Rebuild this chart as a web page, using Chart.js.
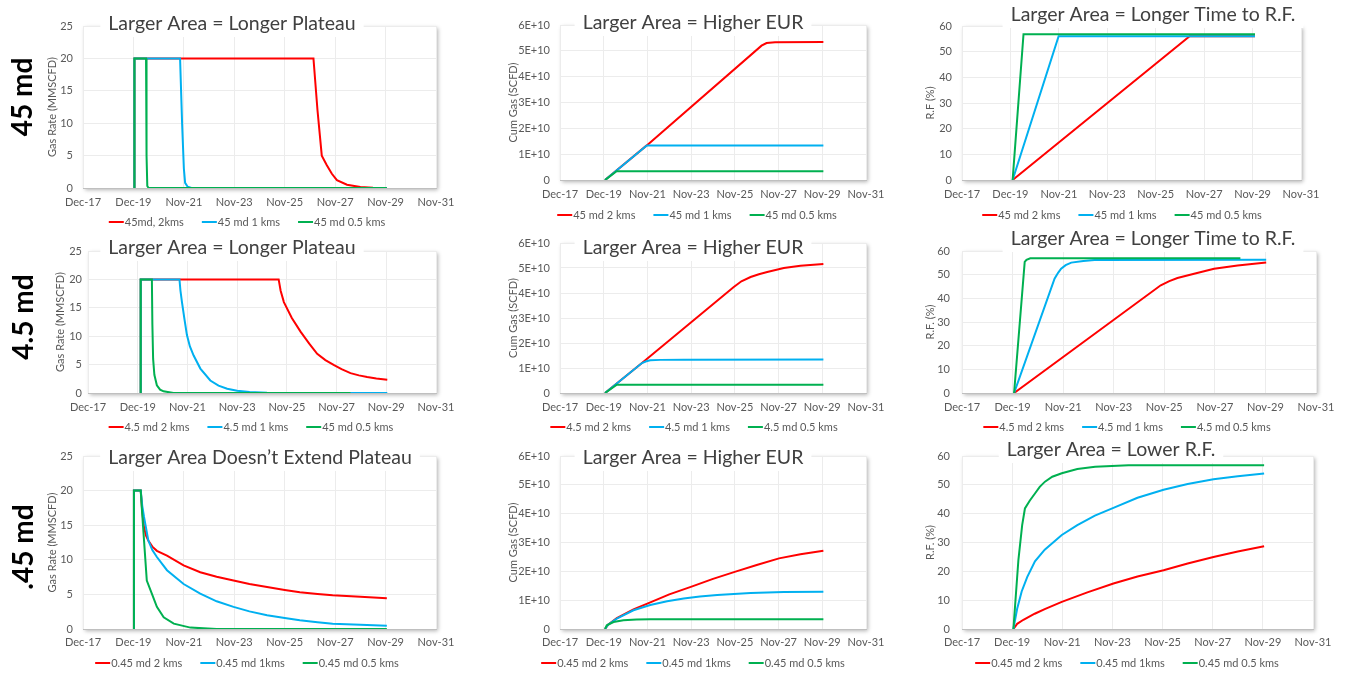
<!DOCTYPE html>
<html>
<head>
<meta charset="utf-8">
<script src="https://cdn.jsdelivr.net/npm/chart.js@4.4.1/dist/chart.umd.min.js"></script>
<style>
  body { margin: 0; background: #fff; width: 1345px; height: 674px; position: relative; overflow: hidden; }
  canvas { position: absolute; }
  .row-label {
    position: absolute;
    font: 700 28px Lato, sans-serif;
    color: #000;
    white-space: nowrap;
    transform: translate(-50%, -50%) rotate(-90deg);
    z-index: 5;
  }
</style>
</head>
<body>
<div class="row-label" style="left:21px;top:97px">45 md</div>
<div class="row-label" style="left:22px;top:317px">4.5 md</div>
<div class="row-label" style="left:22px;top:547px">.45 md</div>

<script>
// time axis in years after Dec-17, one tick every two years
const xTickLabels = ['Dec-17', 'Dec-19', 'Nov-21', 'Nov-23', 'Nov-25', 'Nov-27', 'Nov-29', 'Nov-31'];
const seriesColors = ['#ff0000', '#00b0f0', '#00b050'];

// ---- 45 md ----
const rate45md2km = [[2.04,0],[2.04,20],[9.14,20],[9.3,12],[9.47,5],[9.67,3.5],[9.87,2.2],[10.07,1.2],[10.47,0.5],[11.0,0.15],[11.5,0.05],[12.05,0]];
const rate45md1km = [[2.04,0],[2.04,20],[3.85,20],[3.93,10],[4.0,3],[4.05,0.8],[4.15,0.2],[4.3,0],[12.05,0]];
const rate45md05km = [[2.04,0],[2.04,20],[2.5,20],[2.52,5],[2.55,0.3],[2.6,0],[12.05,0]];

const cum45md2km = [[2.06,0],[3.97,1.34e10],[9.22,5.2e10],[9.45,5.3e10],[9.84,5.33e10],[12.05,5.34e10]];
const cum45md1km = [[2.06,0],[3.97,1.34e10],[12.05,1.34e10]];
const cum45md05km = [[2.06,0],[2.59,0.34e10],[12.05,0.34e10]];

const rf45md2km = [[2.09,0],[9.4,56],[12.1,56]];
const rf45md1km = [[2.09,0],[3.99,56],[12.1,56]];
const rf45md05km = [[2.09,0],[2.54,56.8],[12.1,56.8]];

// ---- 4.5 md ----
const rate4p5md2km = [[2.12,0],[2.12,20],[7.67,20],[7.75,18],[7.88,16],[8.2,13.2],[8.55,10.8],[8.9,8.7],[9.22,6.9],[9.55,5.8],[9.9,4.9],[10.2,4.2],[10.56,3.5],[10.9,3.1],[11.23,2.8],[11.6,2.55],[12.04,2.35]];
const rate4p5md1km = [[2.12,0],[2.12,20],[3.68,20],[3.72,18],[3.78,16],[3.88,13],[3.98,10.2],[4.1,8.2],[4.25,6.6],[4.52,4.3],[4.92,2.2],[5.25,1.3],[5.6,0.76],[6.0,0.4],[6.5,0.18],[7.2,0.05],[7.9,0],[12.04,0]];
const rate4p5md05km = [[2.12,0],[2.12,20],[2.57,20],[2.59,12],[2.62,6],[2.67,3.2],[2.77,1.35],[2.9,0.6],[3.04,0.3],[3.44,0],[10.56,0]];

const cum4p5md2km = [[2.06,0],[3.75,1.2e10],[7.95,4.24e10],[8.3,4.47e10],[8.72,4.64e10],[9.1,4.75e10],[9.48,4.84e10],[10.24,5.0e10],[11.0,5.09e10],[12.05,5.16e10]];
const cum4p5md1km = [[2.06,0],[3.75,1.2e10],[3.95,1.27e10],[4.13,1.31e10],[4.6,1.325e10],[5.66,1.33e10],[12.05,1.34e10]];
const cum4p5md05km = [[2.06,0],[2.6,0.33e10],[12.05,0.33e10]];

const rf4p5md2km = [[2.06,0],[7.86,45.5],[8.2,47.3],[8.52,48.6],[9.18,50.4],[9.97,52.5],[10.9,53.9],[12.03,55.1]];
const rf4p5md1km = [[2.06,0],[3.66,48.3],[3.8,50.8],[3.92,52.5],[4.1,54],[4.32,55.1],[4.8,55.8],[5.24,56.2],[12.03,56.3]];
const rf4p5md05km = [[2.06,0],[2.48,55.4],[2.55,56.3],[2.7,56.9],[11.01,56.9]];

// ---- 0.45 md ----
const rate0p45md2km = [[2.02,0],[2.02,20],[2.29,20],[2.35,17],[2.42,14.7],[2.5,13.5],[2.59,12.8],[2.75,11.9],[2.93,11.3],[3.33,10.6],[3.99,9.2],[4.65,8.2],[5.3,7.55],[5.97,7.0],[6.6,6.5],[7.3,6.06],[8.0,5.65],[8.6,5.3],[9.3,5.05],[9.9,4.86],[11.0,4.65],[12.05,4.45]];
const rate0p45md1km = [[2.02,0],[2.02,20],[2.29,20],[2.35,17.8],[2.42,16.2],[2.59,12.8],[2.75,11.4],[2.93,10.4],[3.33,8.5],[3.99,6.5],[4.65,5.1],[5.3,4.0],[5.97,3.2],[6.6,2.55],[7.3,2.0],[8.0,1.6],[8.6,1.25],[9.3,0.98],[9.9,0.77],[11.0,0.6],[12.05,0.48]];
const rate0p45md05km = [[2.02,0],[2.02,20],[2.29,20],[2.33,17.6],[2.42,12.8],[2.53,7.0],[2.73,5.1],[2.93,3.2],[3.2,1.7],[3.6,0.77],[4.26,0.2],[5.3,0],[12.05,0]];

const cum0p45md2km = [[2.06,0],[2.2,0.15e10],[2.6,0.38e10],[3.36,0.68e10],[4.05,0.9e10],[5.0,1.2e10],[6.05,1.48e10],[7.0,1.74e10],[8.03,1.99e10],[9.0,2.22e10],[10.02,2.45e10],[11.0,2.59e10],[12.05,2.71e10]];
const cum0p45md1km = [[2.06,0],[2.2,0.15e10],[2.6,0.36e10],[3.36,0.65e10],[4.13,0.83e10],[4.9,0.96e10],[5.66,1.06e10],[6.4,1.13e10],[7.19,1.18e10],[8.72,1.25e10],[10.24,1.28e10],[12.05,1.29e10]];
const cum0p45md05km = [[2.06,0],[2.14,0.13e10],[2.45,0.24e10],[2.9,0.3e10],[3.5,0.33e10],[4.13,0.34e10],[12.05,0.34e10]];

const rf0p45md2km = [[2.05,0],[2.2,1.8],[2.45,3.2],[2.9,5.3],[3.3,6.9],[3.98,9.4],[5.0,12.7],[6.04,15.8],[7.0,18.2],[8.04,20.4],[9.0,22.7],[10.03,25],[11.0,26.9],[12.05,28.7]];
const rf0p45md1km = [[2.05,0],[2.2,7],[2.38,13],[2.6,18],[2.91,23.5],[3.3,27.5],[3.98,32.6],[4.6,36],[5.3,39.3],[6.04,42],[7.0,45.5],[8.04,48.3],[9.0,50.3],[10.03,51.9],[11.0,53],[12.05,53.9]];
const rf0p45md05km = [[2.05,0],[2.25,24],[2.4,36],[2.51,41.8],[2.7,44.5],[2.91,47],[3.1,49.3],[3.31,51.1],[3.6,52.8],[3.98,54],[4.6,55.5],[5.31,56.3],[6.64,56.8],[12.05,56.8]];

const legend45Rate = ['45md, 2kms', '45 md 1 kms', '45 md 0.5 kms'];
const legend45 = ['45 md 2 kms', '45 md 1 kms', '45 md 0.5 kms'];
const legend4p5Rate = ['4.5 md 2 kms', '4.5 md 1 kms', '45 md 0.5 kms'];
const legend4p5 = ['4.5 md 2 kms', '4.5 md 1 kms', '4.5 md 0.5 kms'];
const legend0p45 = ['0.45 md 2 kms', '0.45 md 1kms', '0.45 md 0.5 kms'];

const fontFamily = 'Lato, "Open Sans", sans-serif';
const textGrey = '#595959';
const yTitleSize = 11;

// plot box with a soft drop shadow
const framePlugin = {
  id: 'plotFrame',
  beforeDraw(chart) {
    const { ctx, chartArea: a } = chart;
    ctx.save();
    ctx.shadowColor = 'rgba(0,0,0,0.30)';
    ctx.shadowBlur = 4;
    ctx.shadowOffsetX = 2;
    ctx.shadowOffsetY = 2;
    ctx.fillStyle = '#fff';
    ctx.fillRect(a.left, a.top, a.right - a.left, a.bottom - a.top);
    ctx.restore();
    ctx.save();
    ctx.strokeStyle = '#e2e2e2';
    ctx.lineWidth = 1;
    ctx.strokeRect(Math.round(a.left) + 0.5, Math.round(a.top) + 0.5, a.right - a.left, a.bottom - a.top);
    ctx.restore();
  }
};

// heading sitting on the top edge of the plot box
const headingPlugin = {
  id: 'boxHeading',
  afterDraw(chart, args, opts) {
    const ctx = chart.ctx;
    ctx.save();
    ctx.font = '19.5px ' + fontFamily;
    const w = ctx.measureText(opts.text).width;
    ctx.fillStyle = '#fff';
    ctx.fillRect(opts.x - w / 2 - 8, opts.y - 13, w + 16, 26);
    ctx.fillStyle = '#404040';
    ctx.textAlign = 'center';
    ctx.textBaseline = 'middle';
    ctx.fillText(opts.text, opts.x, opts.y);
    ctx.restore();
  }
};

// one-row legend with short line markers
const lineLegendPlugin = {
  id: 'lineLegend',
  afterDraw(chart, args, opts) {
    const ctx = chart.ctx;
    const labels = chart.data.datasets.map(d => d.label);
    ctx.save();
    ctx.font = '11px ' + fontFamily;
    const lineW = 15, gap = 1, space = 18;
    const widths = labels.map(t => lineW + gap + ctx.measureText(t).width);
    const total = widths.reduce((s, w) => s + w, 0) + space * (widths.length - 1);
    let x = opts.x - total / 2;
    labels.forEach((t, i) => {
      ctx.strokeStyle = chart.data.datasets[i].borderColor;
      ctx.lineWidth = 2;
      ctx.beginPath();
      ctx.moveTo(x, opts.y);
      ctx.lineTo(x + lineW, opts.y);
      ctx.stroke();
      ctx.fillStyle = textGrey;
      ctx.textAlign = 'left';
      ctx.textBaseline = 'middle';
      ctx.fillText(t, x + lineW + gap, opts.y);
      x += widths[i] + space;
    });
    ctx.restore();
  }
};

// canvas cells overlap a little so edge labels are never cut
const cols = [{ x: 0, w: 458 }, { x: 450, w: 445 }, { x: 895, w: 450 }];
const rows = [{ y: 0, h: 232 }, { y: 225, h: 215 }, { y: 432, h: 242 }];

const rateAxis = { max: 25, step: 5, title: 'Gas Rate (MMSCFD)', fmt: v => v };
const cumAxis = { max: 6e10, step: 1e10, title: 'Cum Gas (SCFD)', fmt: v => (v === 0 ? '0' : (v / 1e10) + 'E+10') };
const rfAxis = { max: 60, step: 10, title: 'R.F. (%)', fmt: v => v };

const panels = [
  { col: 0, row: 0, axis: rateAxis, heading: 'Larger Area = Longer Plateau', series: [rate45md2km, rate45md1km, rate45md05km], legend: legend45Rate,
    area: { l: 83, t: 26, r: 436, b: 188 }, yTitleX: 52, yTickRight: 73, xTickY: 203, head: [232, 24], leg: [247, 222] },
  { col: 1, row: 0, axis: cumAxis, heading: 'Larger Area = Higher EUR', series: [cum45md2km, cum45md1km, cum45md05km], legend: legend45,
    area: { l: 560, t: 25, r: 866, b: 180 }, yTitleX: 513, yTickRight: 550, xTickY: 195, head: [693, 23], leg: [697, 215] },
  { col: 2, row: 0, axis: Object.assign({}, rfAxis, { title: 'R.F (%)' }), heading: 'Larger Area = Longer Time to R.F.', series: [rf45md2km, rf45md1km, rf45md05km], legend: legend45,
    area: { l: 962, t: 26, r: 1301, b: 180 }, yTitleX: 930, yTickRight: 952, xTickY: 195, head: [1153, 15], leg: [1122, 215] },

  { col: 0, row: 1, axis: rateAxis, heading: 'Larger Area = Longer Plateau', series: [rate4p5md2km, rate4p5md1km, rate4p5md05km], legend: legend4p5Rate,
    area: { l: 88, t: 251, r: 436, b: 393 }, yTitleX: 60, yTickRight: 82, xTickY: 408, head: [232, 248], leg: [251, 427] },
  { col: 1, row: 1, axis: cumAxis, heading: 'Larger Area = Higher EUR', series: [cum4p5md2km, cum4p5md1km, cum4p5md05km], legend: legend4p5,
    area: { l: 560, t: 243, r: 866, b: 393 }, yTitleX: 513, yTickRight: 550, xTickY: 408, head: [693, 248], leg: [694, 427] },
  { col: 2, row: 1, axis: rfAxis, heading: 'Larger Area = Longer Time to R.F.', series: [rf4p5md2km, rf4p5md1km, rf4p5md05km], legend: legend4p5,
    area: { l: 962, t: 251, r: 1316, b: 393 }, yTitleX: 930, yTickRight: 950, xTickY: 408, head: [1153, 239], leg: [1127, 427] },

  { col: 0, row: 2, axis: rateAxis, heading: 'Larger Area Doesn\u2019t Extend Plateau', series: [rate0p45md2km, rate0p45md1km, rate0p45md05km], legend: legend0p45,
    area: { l: 83, t: 456, r: 436, b: 629 }, yTitleX: 52, yTickRight: 73, xTickY: 643, head: [260, 458], leg: [247, 663] },
  { col: 1, row: 2, axis: cumAxis, heading: 'Larger Area = Higher EUR', series: [cum0p45md2km, cum0p45md1km, cum0p45md05km], legend: legend0p45,
    area: { l: 560, t: 456, r: 866, b: 629 }, yTitleX: 513, yTickRight: 550, xTickY: 643, head: [693, 458], leg: [693, 663] },
  { col: 2, row: 2, axis: rfAxis, heading: 'Larger Area = Lower R.F.', series: [rf0p45md2km, rf0p45md1km, rf0p45md05km], legend: legend0p45,
    area: { l: 962, t: 456, r: 1313, b: 629 }, yTitleX: 930, yTickRight: 950, xTickY: 643, head: [1111, 450], leg: [1127, 663] },
];

function buildPanel(p) {
  const cell = { x: cols[p.col].x, y: rows[p.row].y, w: cols[p.col].w, h: rows[p.row].h };
  const canvas = document.createElement('canvas');
  canvas.width = cell.w;
  canvas.height = cell.h;
  canvas.style.left = cell.x + 'px';
  canvas.style.top = cell.y + 'px';
  document.body.appendChild(canvas);

  const a = p.area;
  const yWidth = a.l - (p.yTitleX - yTitleSize * 0.6);
  const xHeight = 30;

  new Chart(canvas.getContext('2d'), {
    type: 'line',
    data: {
      datasets: p.series.map((s, i) => ({
        label: p.legend[i],
        data: s.map(([x, y]) => ({ x, y })),
        borderColor: seriesColors[i],
        borderWidth: 2,
        pointRadius: 0,
        tension: 0,
        fill: false,
        order: 3 - i,
      })),
    },
    options: {
      responsive: false,
      animation: false,
      devicePixelRatio: 1,
      events: [],
      layout: {
        padding: {
          left: a.l - cell.x - yWidth,
          top: a.t - cell.y,
          right: cell.x + cell.w - a.r,
          bottom: cell.y + cell.h - a.b - xHeight,
        },
      },
      scales: {
        x: {
          type: 'linear',
          min: 0,
          max: 14,
          ticks: {
            stepSize: 2,
            autoSkip: false,
            maxRotation: 0,
            padding: p.xTickY - a.b - 7,
            color: textGrey,
            font: { family: fontFamily, size: 11 },
            callback: v => xTickLabels[Math.round(v / 2)],
          },
          grid: { color: '#ececec', drawTicks: false },
          border: { color: '#bfbfbf' },
          afterFit: sc => { sc.height = xHeight; sc.paddingLeft = 0; sc.paddingRight = 0; },
        },
        y: {
          min: 0,
          max: p.axis.max,
          ticks: {
            stepSize: p.axis.step,
            padding: a.l - p.yTickRight,
            color: textGrey,
            font: { family: fontFamily, size: 11 },
            callback: p.axis.fmt,
          },
          grid: { color: '#ececec', drawTicks: false },
          border: { display: false },
          title: {
            display: true,
            text: p.axis.title,
            color: textGrey,
            padding: 0,
            font: { family: fontFamily, size: yTitleSize },
          },
          afterFit: sc => { sc.width = yWidth; sc.paddingTop = 0; sc.paddingBottom = 0; },
        },
      },
      plugins: {
        legend: { display: false },
        tooltip: { enabled: false },
        boxHeading: { text: p.heading, x: p.head[0] - cell.x, y: p.head[1] - cell.y },
        lineLegend: { x: p.leg[0] - cell.x, y: p.leg[1] - cell.y },
      },
    },
    plugins: [framePlugin, headingPlugin, lineLegendPlugin],
  });
}

panels.forEach(buildPanel);
</script>
</body>
</html>
